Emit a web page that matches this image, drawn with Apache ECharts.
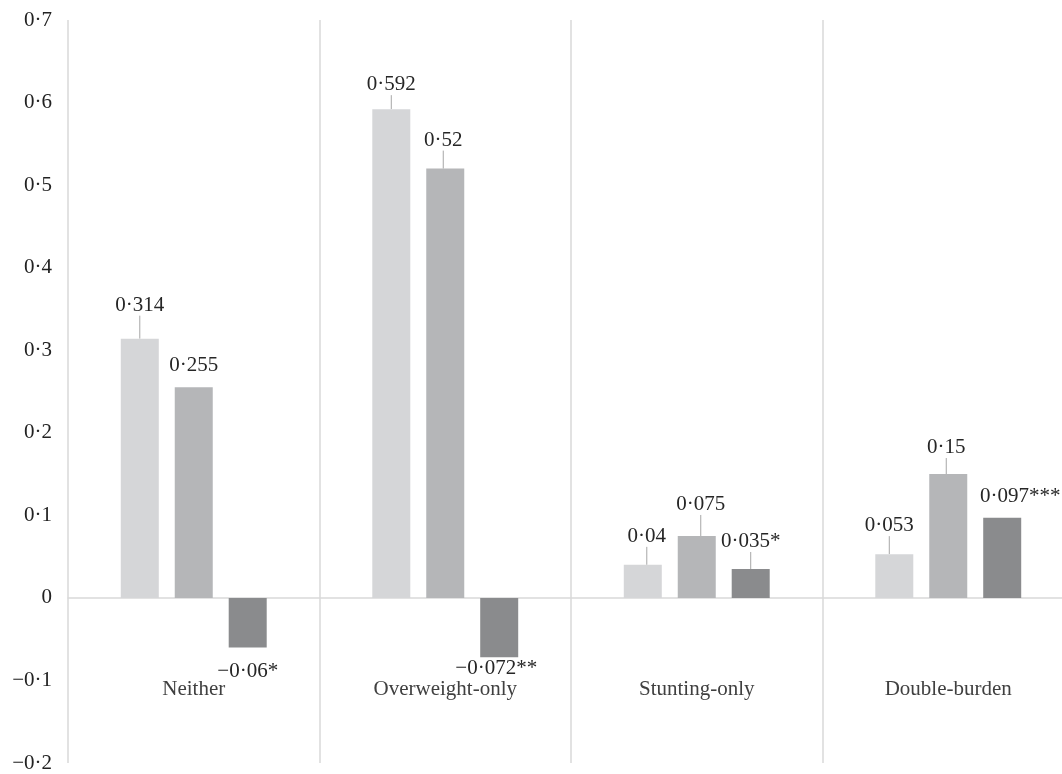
<!DOCTYPE html>
<html>
<head>
<meta charset="utf-8">
<script src="https://cdn.jsdelivr.net/npm/echarts@6/dist/echarts.min.js"></script>
<style>
  html, body { margin: 0; padding: 0; background: #fff; }
  #chart { width: 1062px; height: 774px; }
</style>
</head>
<body>
<div id="chart"></div>
<script>
const categories = ['Neither', 'Overweight-only', 'Stunting-only', 'Double-burden']
const seriesA = [0.314, 0.592, 0.04, 0.053]
const seriesB = [0.255, 0.52, 0.075, 0.15]
const seriesC = [-0.06, -0.072, 0.035, 0.097]
const starsC = ['*', '**', '*', '***']
const yTicks = { min: -0.2, max: 0.7, step: 0.1 }

// label nudges (px) so the labels sit where the original put them
const shiftA = [[0, -18], [0, -9], [4, -13], [-5, -13]]
const shiftB = [[0, -6], [-2, -13], [4, -16], [-2, -11]]
const shiftC = [[0, 9], [-3, -4], [0, -12], [18, -6]]
// which labels get a leader line
const leadA = [true, true, true, true]
const leadB = [false, true, true, true]
const leadC = [false, false, true, false]

const fmt = (v) => {
  const s = String(Math.abs(v)).replace('.', '·')
  return (v < 0 ? '−' : '') + s
}

const font = 'Liberation Serif, Times New Roman, serif'

const chart = echarts.init(document.getElementById('chart'))

const mkSeries = (data, color, shift, lead, stars) => ({
  type: 'bar',
  data: data.map((v, i) => ({
    value: v,
    label: { position: v < 0 ? 'bottom' : 'top' },
    labelLine: { show: lead[i] }
  })),
  barWidth: 38,
  barGap: '42%',
  itemStyle: { color: color },
  label: {
    show: true,
    distance: 5,
    fontFamily: font,
    fontSize: 21,
    color: '#262626',
    formatter: (p) => fmt(p.value) + (stars ? stars[p.dataIndex] : '')
  },
  labelLayout: (p) => ({ dx: shift[p.dataIndex][0], dy: shift[p.dataIndex][1] }),
  labelLine: { show: true, lineStyle: { color: '#a6a6a6', width: 1 } },
  emphasis: { disabled: true }
})

chart.setOption({
  animation: false,
  grid: { left: 68, top: 20, width: 1006, height: 743, containLabel: false, outerBoundsMode: 'none' },
  xAxis: {
    type: 'category',
    data: categories,
    axisTick: { show: false },
    axisLine: { show: true, onZero: true, lineStyle: { color: '#d9d9d9', width: 1.5 } },
    axisLabel: { margin: -84, fontFamily: font, fontSize: 21, color: '#404040' },
    splitLine: { show: true, lineStyle: { color: '#d9d9d9', width: 1.5 } }
  },
  yAxis: {
    type: 'value',
    min: yTicks.min,
    max: yTicks.max,
    interval: yTicks.step,
    splitLine: { show: false },
    axisLine: { show: false },
    axisTick: { show: false },
    axisLabel: {
      margin: 16,
      fontFamily: font,
      fontSize: 21,
      color: '#222',
      formatter: (v) => fmt(Number(v.toFixed(1)))
    }
  },
  series: [
    mkSeries(seriesA, '#d5d6d8', shiftA, leadA),
    mkSeries(seriesB, '#b5b6b8', shiftB, leadB),
    mkSeries(seriesC, '#8a8b8d', shiftC, leadC, starsC)
  ]
})
</script>
</body>
</html>
